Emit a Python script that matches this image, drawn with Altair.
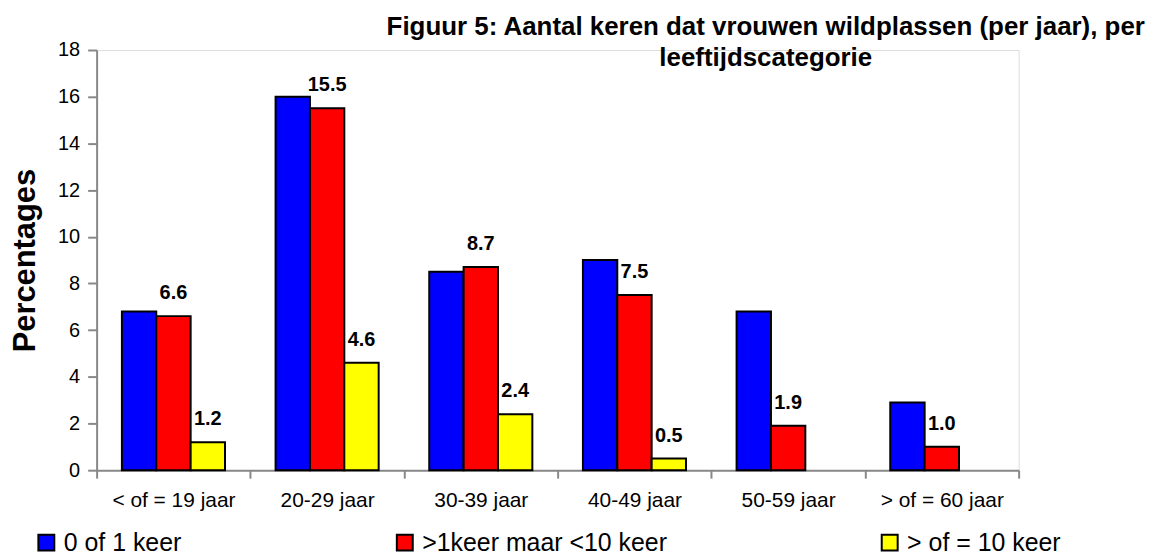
import altair as alt
import pandas as pd

categories = ["< of = 19 jaar", "20-29 jaar", "30-39 jaar", "40-49 jaar", "50-59 jaar", "> of = 60 jaar"]
series = ["0 of 1 keer", ">1keer maar <10 keer", "> of = 10 keer"]
colors = ["#0000FF", "#FF0000", "#FFFF00"]
blue_values = [6.8, 16.0, 8.5, 9.0, 6.8, 2.9]
red_values = [6.6, 15.5, 8.7, 7.5, 1.9, 1.0]
yellow_values = [1.2, 4.6, 2.4, 0.5, 0.0, 0.0]
labelled_series = [">1keer maar <10 keer", "> of = 10 keer"]
y_ticks = [0, 2, 4, 6, 8, 10, 12, 14, 16, 18]
title_lines = ["Figuur 5: Aantal keren dat vrouwen wildplassen (per jaar), per", "leeftijdscategorie"]
y_title = "Percentages"

FONT = "Liberation Sans"

rows = []
for s, vals in zip(series, [blue_values, red_values, yellow_values]):
    for c, v in zip(categories, vals):
        rows.append({"cat": c, "series": s, "value": v, "labelled": s in labelled_series})
df = pd.DataFrame(rows)

base = alt.Chart(df).encode(
    x=alt.X(
        "cat:N",
        sort=categories,
        scale=alt.Scale(paddingInner=0, paddingOuter=0),
        axis=alt.Axis(
            title=None, labelAngle=0, tickBand="extent", labelFontSize=21,
            labelPadding=11, tickSize=8, tickWidth=2, domainWidth=2, labelLimit=300,
        ),
    ),
    xOffset=alt.XOffset("series:N", sort=series, scale=alt.Scale(paddingInner=0, paddingOuter=0.736)),
    y=alt.Y(
        "value:Q",
        scale=alt.Scale(domain=[0, 18], nice=False),
        axis=alt.Axis(
            values=y_ticks, title=y_title, titleFontSize=31, titleFontWeight="bold",
            titlePadding=16, labelFontSize=20, labelPadding=8, tickSize=9, tickWidth=2,
            domainWidth=2, grid=False,
        ),
    ),
)

bars = base.mark_bar(stroke="black", strokeWidth=2).encode(
    color=alt.Color(
        "series:N",
        sort=series,
        scale=alt.Scale(domain=series, range=colors),
        legend=alt.Legend(
            title=None, orient="none", legendX=-63, legendY=482, direction="horizontal",
            columnPadding=211, labelFontSize=25, labelFont=FONT, labelLimit=400,
            symbolType="square", symbolSize=256, symbolStrokeColor="black",
            symbolStrokeWidth=2, labelOffset=5, symbolOpacity=1,
        ),
    )
).transform_filter("datum.value > 0")

labels = base.mark_text(
    fontSize=20, fontWeight="bold", baseline="alphabetic", dy=-17, font=FONT, color="black"
).encode(
    text=alt.Text("value:Q", format=".1f")
).transform_filter("datum.labelled && datum.value > 0")

chart = alt.layer(bars, labels).properties(
    width=926,
    height=422,
    title=alt.Title(
        text=title_lines, fontSize=26, font=FONT, fontWeight="bold", anchor="middle",
        dx=209, offset=-31, lineHeight=31, color="black",
    ),
    autosize=alt.AutoSizeParams(type="none"),
    padding={"left": 89, "top": 41, "right": 150, "bottom": 86},
).configure_view(stroke=None).configure_axis(
    labelFont=FONT, titleFont=FONT, labelColor="black", titleColor="black",
    domainColor="black", tickColor="black",
).configure(background="white")

chart.save("out.html", embed_options={"renderer": "svg", "actions": False})
